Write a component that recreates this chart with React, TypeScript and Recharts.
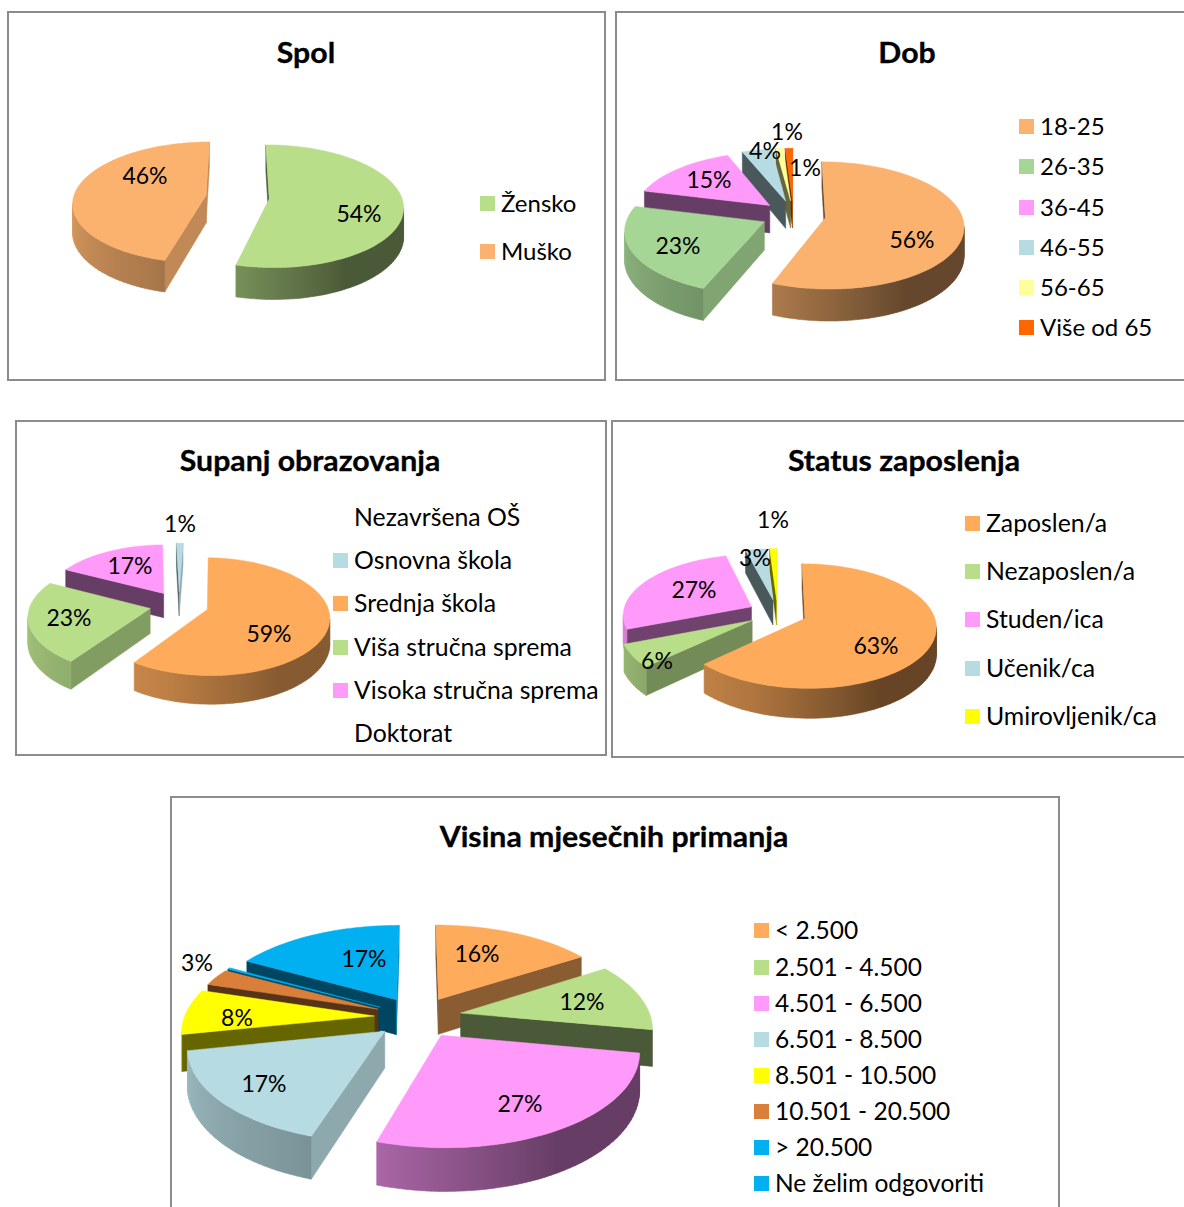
import React from 'react';
import { PieChart, Pie } from 'recharts';

// values
const spolCategories = ['Žensko', 'Muško'];
const spolValues = [54, 46];
const dobCategories = ['18-25', '26-35', '36-45', '46-55', '56-65', 'Više od 65'];
const dobValues = [56, 23, 15, 4, 1, 1];
const obrazovanjeCategories = ['Nezavršena OŠ', 'Osnovna škola', 'Srednja škola', 'Viša stručna sprema', 'Visoka stručna sprema', 'Doktorat'];
const obrazovanjeValues = [0, 1, 59, 23, 17, 0];
const statusCategories = ['Zaposlen/a', 'Nezaposlen/a', 'Studen/ica', 'Učenik/ca', 'Umirovljenik/ca'];
const statusValues = [63, 6, 27, 3, 1];
const primanjaCategories = ['< 2.500', '2.501 - 4.500', '4.501 - 6.500', '6.501 - 8.500', '8.501 - 10.500', '10.501 - 20.500', '> 20.500', 'Ne želim odgovoriti'];
const primanjaValues = [16, 12, 27, 17, 8, 3, 0.3, 17];

const ORANGE = '#FFAB5C';
const GREEN = '#B8DE8A';
const PINK = '#FF99FA';
const ICE = '#B7DBE2';
const FONT = 'Lato, Carlito, sans-serif';

const charts = [
  {
    title: 'Spol', titleAt: [306, 52],
    categories: spolCategories, values: spolValues,
    colors: [GREEN, '#FBB26E'],
    box: [7, 11, 597, 368], pie: [237.5, 197, 132.5], ry: 60, persp: 0.12, explode: 0.24, depth: 28, start: 90, rimMin: 0.4,
    order: [1, 0],
    labels: [[359, 213], [145, 175]],
    legendX: 480, legendRows: [203, 251], legendFont: 24,
  },
  {
    title: 'Dob', titleAt: [907, 52],
    categories: dobCategories, values: dobValues,
    colors: ['#FBB26E', '#A6D696', PINK, ICE, '#FFFF99', '#FF6600'],
    box: [615, 11, 600, 368], pie: [793.5, 215, 136.5], ry: 62, persp: 0.12, explode: 0.236, depth: 28, start: 90, rimMin: 0.4,
    order: [5, 4, 3, 2, 0, 1],
    labels: [[912, 239], [678, 245], [709, 179], [765, 150], [787, 131], [805, 167]],
    legendX: 1019, legendRows: [126, 166, 207, 247, 287, 327], legendFont: 24,
  },
  {
    title: 'Supanj obrazovanja', titleAt: [310, 460],
    categories: obrazovanjeCategories, values: obrazovanjeValues,
    colors: ['#FFFFFF', ICE, ORANGE, GREEN, PINK, '#FFFFFF'],
    box: [15, 420, 590, 334], pie: [179, 605, 120], ry: 57, persp: 0.12, explode: 0.246, depth: 25, start: 91.5, rimMin: 0.53,
    order: [1, 4, 2, 3],
    labels: [null, [180, 523], [269, 633], [69, 617], [130, 565], null],
    legendX: 333, legendRows: [517, 560, 603, 647, 690, 733], legendFont: 24.8,
  },
  {
    title: 'Status zaposlenja', titleAt: [904, 460],
    categories: statusCategories, values: statusValues,
    colors: [ORANGE, GREEN, PINK, ICE, '#FFFF00'],
    box: [611, 420, 600, 336], pie: [777.5, 613, 128.5], ry: 60, persp: 0.12, explode: 0.23, depth: 26, start: 90, rimMin: 0.4,
    order: [4, 3, 2, 1, 0],
    labels: [[876, 645], [657, 660], [694, 589], [755, 557], [773, 519]],
    legendX: 965, legendRows: [523, 571, 619, 668, 716], legendFont: 24.8,
  },
  {
    title: 'Visina mjesečnih primanja', titleAt: [614, 836],
    categories: primanjaCategories, values: primanjaValues,
    colors: [ORANGE, GREEN, PINK, ICE, '#FFFF00', '#D97F3A', '#00B0F0', '#00B0F0'],
    box: [170, 796, 888, 431], pie: [418, 1017, 190], ry: 90, persp: 0.147, explode: 0.23, depth: 36, start: 90, rimMin: 0.4,
    order: [0, 7, 6, 5, 1, 4, 3, 2],
    labels: [[477, 953], [582, 1001], [520, 1103], [264, 1083], [237, 1017], [197, 962], null, [364, 958]],
    legendX: 754, legendRows: [930, 967, 1003, 1039, 1075, 1111, 1147, 1183], legendFont: 24.5,
  },
];

const rad = (d: number) => (d * Math.PI) / 180;

function shade(hex: string, f: number) {
  const n = parseInt(hex.slice(1), 16);
  const c = [(n >> 16) & 255, (n >> 8) & 255, n & 255].map((v) => Math.round(v * f));
  return `rgb(${c[0]},${c[1]},${c[2]})`;
}

// rim is lit from the left, darkest on the right hand side
function rimShade(theta: number, min: number) {
  const t = ((theta % 360) + 360) % 360;
  let f = 0.4;
  if (t >= 200) f = 0.68 + ((Math.min(t, 270) - 200) / 70) * 0.2;
  else if (t >= 150) f = 0.4 + ((t - 150) / 50) * 0.28;
  return min + (f - 0.4) * ((1 - min) / 0.6);
}

function faceShade(nx: number) {
  if (nx < 0.3) return 0.4;
  return 0.4 + (Math.min(nx, 0.93) - 0.3) * 0.587;
}

function area(p: number[][]) {
  let a = 0;
  p.forEach((q, i) => {
    const r = p[(i + 1) % p.length];
    a += q[0] * r[1] - r[0] * q[1];
  });
  return a;
}

const toPoints = (p: number[][]) => p.map((q) => `${q[0].toFixed(1)},${q[1].toFixed(1)}`).join(' ');

// one exploded slice of a tilted pie; angles and centre come from the Pie
function Slice3D({ sector, chart, color, id }: any) {
  const { cx, cy, outerRadius, startAngle, endAngle } = sector;
  const t1 = 90 - startAngle;
  const t2 = 90 - endAngle;
  const mid = (t1 + t2) / 2;
  const ox = chart.explode * Math.sin(rad(mid));
  const oy = -chart.explode * Math.cos(rad(mid));

  const point = (theta: number, r: number, z: number) => {
    const u = ox + r * Math.sin(rad(theta));
    const v = oy - r * Math.cos(rad(theta));
    const s = 1 / (1 - chart.persp * v);
    return [cx + outerRadius * u * s, cy + chart.ry * v * s + z * s];
  };

  const d = chart.depth;
  const steps = Math.max(2, Math.ceil((t2 - t1) / 2));
  const angles = Array.from({ length: steps + 1 }, (_, i) => t1 + ((t2 - t1) * i) / steps);

  const walls: React.ReactNode[] = [];
  const faceA = [point(0, 0, 0), point(t1, 1, 0), point(t1, 1, d), point(0, 0, d)];
  if (area(faceA) < 0) {
    const c = shade(color, faceShade(-Math.cos(rad(t1))));
    walls.push(<polygon key="a" points={toPoints(faceA)} fill={c} stroke={c} strokeWidth={0.5} />);
  }
  const faceB = [point(t2, 1, 0), point(0, 0, 0), point(0, 0, d), point(t2, 1, d)];
  if (area(faceB) < 0) {
    const c = shade(color, faceShade(Math.cos(rad(t2))));
    walls.push(<polygon key="b" points={toPoints(faceB)} fill={c} stroke={c} strokeWidth={0.5} />);
  }

  // visible part of the rim, painted with one gradient so no seams show
  const rimQuads: number[][][] = [];
  const rimStops: { x: number; c: string }[] = [];
  angles.slice(0, -1).forEach((a, i) => {
    const b = angles[i + 1];
    const quad = [point(a, 1, 0), point(b, 1, 0), point(b, 1, d), point(a, 1, d)];
    if (area(quad) < 0) {
      rimQuads.push(quad);
      rimStops.push({ x: quad[0][0], c: shade(color, rimShade(a, chart.rimMin)) });
      rimStops.push({ x: quad[1][0], c: shade(color, rimShade(b, chart.rimMin)) });
    }
  });
  let rim = null;
  if (rimQuads.length > 0) {
    const xs = rimStops.map((s) => s.x);
    const x0 = Math.min(...xs);
    const x1 = Math.max(...xs);
    const sorted = [...rimStops].sort((p, q) => p.x - q.x);
    const path = rimQuads.map((q) => `M${toPoints(q).replace(/ /g, 'L')}Z`).join('');
    rim = (
      <>
        <defs>
          <linearGradient id={id} gradientUnits="userSpaceOnUse" x1={x0} x2={x1 > x0 ? x1 : x0 + 1} y1={0} y2={0}>
            {sorted.map((s, i) => (
              <stop key={i} offset={x1 > x0 ? (s.x - x0) / (x1 - x0) : 0} stopColor={s.c} />
            ))}
          </linearGradient>
        </defs>
        <path d={path} fill={`url(#${id})`} stroke={`url(#${id})`} strokeWidth={0.6} />
      </>
    );
  }

  const top = [point(0, 0, 0), ...angles.map((a) => point(a, 1, 0))];
  return (
    <g>
      {walls}
      {rim}
      <polygon points={toPoints(top)} fill={color} stroke={color} strokeWidth={0.5} />
    </g>
  );
}

function Panel({ chart, chartIndex }: any) {
  const [bx, by, bw, bh] = chart.box;
  const data = chart.categories.map((name: string, i: number) => ({ name, value: chart.values[i] }));
  const common = {
    data,
    dataKey: 'value',
    nameKey: 'name',
    cx: chart.pie[0] - bx,
    cy: chart.pie[1] - by,
    innerRadius: 0,
    outerRadius: chart.pie[2],
    startAngle: chart.start,
    endAngle: chart.start - 360,
    isAnimationActive: false,
    stroke: 'none',
  };

  const renderLabel = (p: any) => {
    const at = chart.labels[p.index];
    if (!at) return null;
    return (
      <text x={at[0] - bx} y={at[1] - by} textAnchor="middle" dominantBaseline="central" fontFamily={FONT} fontSize={23} fill="#000">
        {`${Math.round(p.percent * 100)}%`}
      </text>
    );
  };

  return (
    <>
      <div style={{ position: 'absolute', left: bx, top: by, width: bw - 2, height: bh - 2, border: '2px solid #8c8c8c', background: '#fff' }} />
      <div style={{ position: 'absolute', left: bx, top: by }}>
        <PieChart width={bw} height={bh} margin={{ top: 0, right: 0, bottom: 0, left: 0 }}>
          {chart.order.map((i: number) => (
            <Pie
              key={i}
              {...common}
              shape={(sector: any) =>
                sector.name === chart.categories[i] ? (
                  <Slice3D sector={sector} chart={chart} color={chart.colors[i]} id={`rim-${chartIndex}-${i}`} />
                ) : (
                  <g />
                )
              }
            />
          ))}
          <Pie {...common} fill="none" shape={() => <g />} label={renderLabel} labelLine={false} />
        </PieChart>
      </div>
      <div style={{ position: 'absolute', left: chart.titleAt[0] - 300, top: chart.titleAt[1] - 20, width: 600, height: 40, lineHeight: '40px', textAlign: 'center', fontFamily: FONT, fontWeight: 700, fontSize: 28, color: '#000', transform: 'scaleX(1.08)', WebkitTextStroke: '0.3px #000' }}>
        {chart.title}
      </div>
      {chart.categories.map((name: string, i: number) => (
        <div key={name} style={{ position: 'absolute', left: chart.legendX, top: chart.legendRows[i] - 15, height: 30, lineHeight: '30px', whiteSpace: 'nowrap', fontFamily: FONT, fontSize: chart.legendFont, color: '#000' }}>
          <span style={{ position: 'absolute', left: 0, top: 8, width: 15, height: 15, background: chart.colors[i] }} />
          <span style={{ marginLeft: 21 }}>{name}</span>
        </div>
      ))}
    </>
  );
}

export default function App() {
  return (
    <div style={{ position: 'absolute', left: 0, top: 0, width: 1184, height: 1207, overflow: 'hidden', background: '#fff' }}>
      {charts.map((c, i) => (
        <Panel key={c.title} chart={c} chartIndex={i} />
      ))}
    </div>
  );
}
